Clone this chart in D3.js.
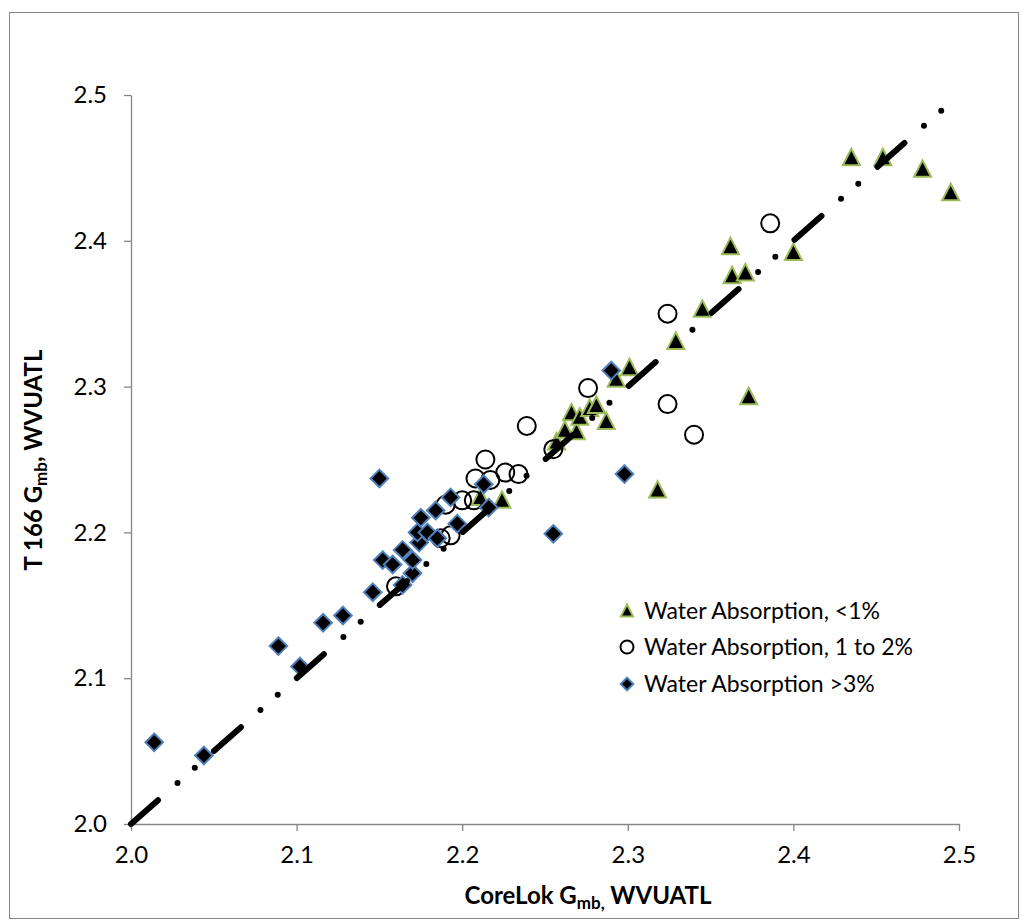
<!DOCTYPE html>
<html>
<head>
<meta charset="utf-8">
<script src="https://cdn.jsdelivr.net/npm/d3@7"></script>
<style>
  body { margin: 0; background: #fff; }
  text { font-family: Lato, "Open Sans", sans-serif; fill: #000; }
</style>
</head>
<body>
<svg id="chart" width="1021" height="921"></svg>
<script>
// Axis ticks
const xTicks = [2.0, 2.1, 2.2, 2.3, 2.4, 2.5];
const yTicks = [2.0, 2.1, 2.2, 2.3, 2.4, 2.5];

// Legend labels
const seriesNames = [
  "Water Absorption, <1%",
  "Water Absorption, 1 to 2%",
  "Water Absorption >3%"
];

// Series 1: water absorption < 1% (CoreLok, T 166)
const lowX = [2.435, 2.454, 2.478, 2.495, 2.400, 2.362, 2.363, 2.371, 2.345, 2.329,
              2.373, 2.318, 2.257, 2.262, 2.269, 2.266, 2.271, 2.277, 2.281, 2.287,
              2.293, 2.301, 2.224, 2.211];
const lowY = [2.457, 2.457, 2.449, 2.433, 2.392, 2.396, 2.376, 2.378, 2.353, 2.331,
              2.293, 2.229, 2.262, 2.270, 2.269, 2.282, 2.279, 2.285, 2.287, 2.276,
              2.305, 2.313, 2.222, 2.224];

// Series 2: water absorption 1 to 2%
const midX = [2.386, 2.324, 2.324, 2.340, 2.276, 2.239, 2.255, 2.214, 2.226, 2.234,
              2.208, 2.217, 2.207, 2.200, 2.190, 2.193, 2.187, 2.160];
const midY = [2.412, 2.350, 2.288, 2.267, 2.299, 2.273, 2.257, 2.250, 2.241, 2.240,
              2.237, 2.236, 2.222, 2.222, 2.219, 2.198, 2.196, 2.163];

// Series 3: water absorption > 3%
const highX = [2.014, 2.044, 2.089, 2.102, 2.116, 2.128, 2.146, 2.152, 2.158, 2.164,
               2.170, 2.164, 2.170, 2.174, 2.173, 2.179, 2.175, 2.185, 2.184, 2.193,
               2.197, 2.213, 2.216, 2.150, 2.255, 2.298, 2.290];
const highY = [2.056, 2.047, 2.122, 2.108, 2.138, 2.143, 2.159, 2.181, 2.178, 2.164,
               2.172, 2.188, 2.181, 2.193, 2.200, 2.200, 2.210, 2.196, 2.215, 2.224,
               2.206, 2.233, 2.217, 2.237, 2.199, 2.240, 2.311];

// Line of equality
const lineX = [2.0, 2.5];
const lineY = [2.0, 2.5];

const svg = d3.select("#chart");
const W = 1021, H = 921;
const plot = { left: 131, right: 959, top: 95, bottom: 824 };
const axisGrey = "#868686";

svg.append("rect").attr("width", W).attr("height", H).attr("fill", "#fff");
// chart frame
svg.append("rect")
  .attr("x", 9.5).attr("y", 12.5)
  .attr("width", 1009).attr("height", 906)
  .attr("fill", "none").attr("stroke", axisGrey).attr("stroke-width", 1);

const x = d3.scaleLinear().domain([2.0, 2.5]).range([plot.left, plot.right]);
const y = d3.scaleLinear().domain([2.0, 2.5]).range([plot.bottom, plot.top]);

const fmt = d3.format(".1f");

// axes
const xAxis = svg.append("g")
  .attr("transform", `translate(0,${plot.bottom})`)
  .call(d3.axisBottom(x).tickValues(xTicks).tickFormat(fmt).tickSize(7).tickPadding(15).tickSizeOuter(0));
const yAxis = svg.append("g")
  .attr("transform", `translate(${plot.left},0)`)
  .call(d3.axisLeft(y).tickValues(yTicks).tickFormat(fmt).tickSize(7).tickPadding(17).tickSizeOuter(0));

[xAxis, yAxis].forEach(g => {
  g.select(".domain").attr("stroke", axisGrey).attr("stroke-width", 1.3);
  g.selectAll(".tick line").attr("stroke", axisGrey).attr("stroke-width", 1.3);
  g.selectAll(".tick text")
    .attr("font-family", "Lato, 'Open Sans', sans-serif")
    .attr("font-size", 24).attr("fill", "#000");
});

// axis titles with subscripts
function subTitle(sel, before, sub, after) {
  sel.append("tspan").text(before);
  sel.append("tspan").attr("font-size", 17).attr("dy", 5).text(sub);
  sel.append("tspan").attr("font-size", 24).attr("dy", -5).text(after);
}
const xTitle = svg.append("text")
  .attr("x", 588).attr("y", 904)
  .attr("text-anchor", "middle")
  .attr("font-weight", "bold").attr("font-size", 24);
subTitle(xTitle, "CoreLok G", "mb,", " WVUATL");

const yTitle = svg.append("text")
  .attr("transform", "translate(42,460) rotate(-90)")
  .attr("text-anchor", "middle")
  .attr("font-weight", "bold").attr("font-size", 24);
subTitle(yTitle, "T 166 G", "mb", ", WVUATL");

// marker shapes
const triPath = s => `M0,${-9 * s}L${8.5 * s},${7.5 * s}L${-8.5 * s},${7.5 * s}Z`;
const diaPath = s => `M0,${-8.8 * s}L${8.8 * s},0L0,${8.8 * s}L${-8.8 * s},0Z`;

const low = lowX.map((v, i) => [v, lowY[i]]);
const mid = midX.map((v, i) => [v, midY[i]]);
const high = highX.map((v, i) => [v, highY[i]]);

svg.append("g").selectAll("path").data(low).join("path")
  .attr("d", triPath(1))
  .attr("transform", d => `translate(${x(d[0])},${y(d[1])})`)
  .attr("fill", "#000").attr("stroke", "#9bbb59").attr("stroke-width", 2);

svg.append("g").selectAll("circle").data(mid).join("circle")
  .attr("cx", d => x(d[0])).attr("cy", d => y(d[1])).attr("r", 9)
  .attr("fill", "none").attr("stroke", "#000").attr("stroke-width", 2);

svg.append("g").selectAll("path").data(high).join("path")
  .attr("d", diaPath(1))
  .attr("transform", d => `translate(${x(d[0])},${y(d[1])})`)
  .attr("fill", "#000").attr("stroke", "#4f81bd").attr("stroke-width", 2);

// 1:1 line, long dash - dot - dot
const line = d3.line().x(d => x(d[0])).y(d => y(d[1]));
svg.append("path")
  .datum(lineX.map((v, i) => [v, lineY[i]]))
  .attr("d", line)
  .attr("fill", "none").attr("stroke", "#000").attr("stroke-width", 6)
  .attr("stroke-linecap", "round")
  .attr("stroke-dasharray", "36,26,0,23,0,25.5");

// legend
const legend = svg.append("g");
const legendRows = [611, 647, 684];
const lx = 627;
legend.append("path").attr("d", triPath(0.72))
  .attr("transform", `translate(${lx},${legendRows[0]})`)
  .attr("fill", "#000").attr("stroke", "#9bbb59").attr("stroke-width", 2);
legend.append("circle").attr("cx", lx).attr("cy", legendRows[1]).attr("r", 6.5)
  .attr("fill", "none").attr("stroke", "#000").attr("stroke-width", 2);
legend.append("path").attr("d", diaPath(0.72))
  .attr("transform", `translate(${lx},${legendRows[2]})`)
  .attr("fill", "#000").attr("stroke", "#4f81bd").attr("stroke-width", 2);
legend.selectAll("text").data(seriesNames).join("text")
  .attr("x", 644).attr("y", (d, i) => legendRows[i]).attr("dy", "0.36em")
  .attr("font-size", 23).text(d => d);
</script>
</body>
</html>
